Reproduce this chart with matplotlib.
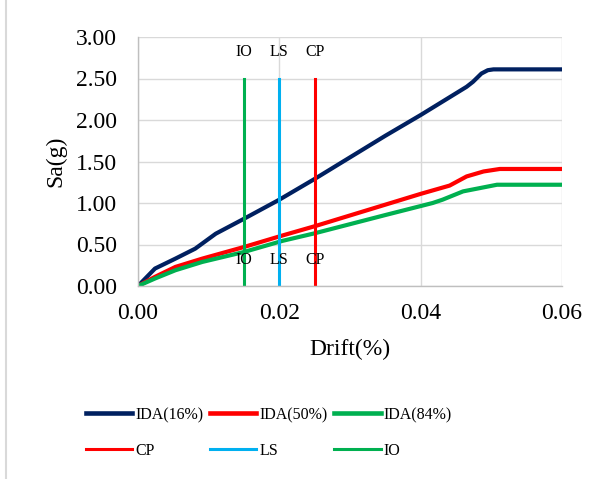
import matplotlib
matplotlib.use("Agg")
import matplotlib.pyplot as plt
from matplotlib.lines import Line2D

plt.rcParams['font.family'] = ['Liberation Serif', 'DejaVu Serif']

# IDA curves
drift_16 = [0, 0.0024, 0.0053, 0.0081, 0.011, 0.015, 0.020, 0.025, 0.030, 0.035, 0.040,
            0.0465, 0.0474, 0.0486, 0.0495, 0.0503, 0.060]
sa_16 = [0, 0.21, 0.33, 0.45, 0.63, 0.81, 1.04, 1.29, 1.55, 1.81, 2.06,
         2.40, 2.46, 2.56, 2.60, 2.61, 2.61]

drift_50 = [0, 0.0024, 0.0053, 0.0091, 0.015, 0.0205, 0.025, 0.030, 0.035, 0.040,
            0.0441, 0.0465, 0.0489, 0.0512, 0.060]
sa_50 = [0, 0.11, 0.23, 0.33, 0.47, 0.61, 0.72, 0.85, 0.98, 1.11,
         1.21, 1.32, 1.38, 1.41, 1.41]

drift_84 = [0, 0.0024, 0.0053, 0.0091, 0.015, 0.0205, 0.025, 0.030, 0.035, 0.0417,
            0.0431, 0.046, 0.0484, 0.0508, 0.060]
sa_84 = [0, 0.09, 0.19, 0.29, 0.41, 0.545, 0.635, 0.745, 0.855, 1.00,
         1.04, 1.14, 1.18, 1.22, 1.22]

# performance levels
levels = ['IO', 'LS', 'CP']
level_drift = [0.015, 0.020, 0.025]
level_top = 2.5
level_colors = {'IO': '#00B050', 'LS': '#00B0F0', 'CP': '#FF0000'}

fig = plt.figure(figsize=(6.06, 4.79), dpi=100)
ax = fig.add_axes([138 / 606, 1 - 286 / 479, 424 / 606, 249 / 479])

kw = dict(lw=3, solid_joinstyle='round', solid_capstyle='butt')
ax.plot(drift_16, sa_16, color='#002060', label='IDA(16%)', **kw)
ax.plot(drift_50, sa_50, color='#FF0000', label='IDA(50%)', **kw)
ax.plot(drift_84, sa_84, color='#00B050', label='IDA(84%)', **kw)

for name, d in zip(levels, level_drift):
    ax.plot([d, d], [0, level_top], color=level_colors[name], lw=2.2)
    ax.text(d, 2.82, name, ha='center', va='center', fontsize=11.5)
    ax.text(d, 0.31, name, ha='center', va='center', fontsize=11.5)

ax.set_xlim(0, 0.06)
ax.set_ylim(0, 3.0)
ax.set_xticks([0, 0.02, 0.04, 0.06])
ax.set_yticks([0, 0.5, 1.0, 1.5, 2.0, 2.5, 3.0])
ax.set_xticklabels(['%.2f' % v for v in [0, 0.02, 0.04, 0.06]])
ax.set_yticklabels(['%.2f' % v for v in [0, 0.5, 1.0, 1.5, 2.0, 2.5, 3.0]])
ax.tick_params(length=0, labelsize=17)
ax.tick_params(axis='y', pad=15)
ax.tick_params(axis='x', pad=12)
ax.grid(True, color='#D9D9D9', lw=1)
ax.set_axisbelow(True)
for s in ['top', 'right']:
    ax.spines[s].set_visible(False)
for s in ['left', 'bottom']:
    ax.spines[s].set_color('#BFBFBF')
    ax.spines[s].set_linewidth(1)

ax.set_xlabel('Drift(%)', fontsize=17)
ax.set_ylabel('Sa(g)', fontsize=17)
ax.xaxis.set_label_coords(0.5, (286 - 349) / 249)
ax.xaxis.label.set_va('center')
ax.yaxis.set_label_coords((56 - 138) / 424, 0.5)
ax.yaxis.label.set_va('center')

# legend: two rows, column-wise order for matplotlib
h = [Line2D([], [], color='#002060', lw=3.3), Line2D([], [], color='#FF0000', lw=2.2),
     Line2D([], [], color='#FF0000', lw=3.3), Line2D([], [], color='#00B0F0', lw=2.2),
     Line2D([], [], color='#00B050', lw=3.3), Line2D([], [], color='#00B050', lw=2.2)]
lab = ['IDA(16%)', 'CP', 'IDA(50%)', 'LS', 'IDA(84%)', 'IO']
fig.legend(h, lab, ncol=3, loc='center', bbox_to_anchor=(269 / 606, 1 - 433 / 479),
           frameon=False, fontsize=11.5, handlelength=2.9, handletextpad=0.2,
           columnspacing=0.4, labelspacing=1.25)

# chart area border on the left
fig.add_artist(Line2D([6 / 606, 6 / 606], [0, 1], color='#D9D9D9', lw=1.5))

fig.savefig('out.png', dpi=100)
